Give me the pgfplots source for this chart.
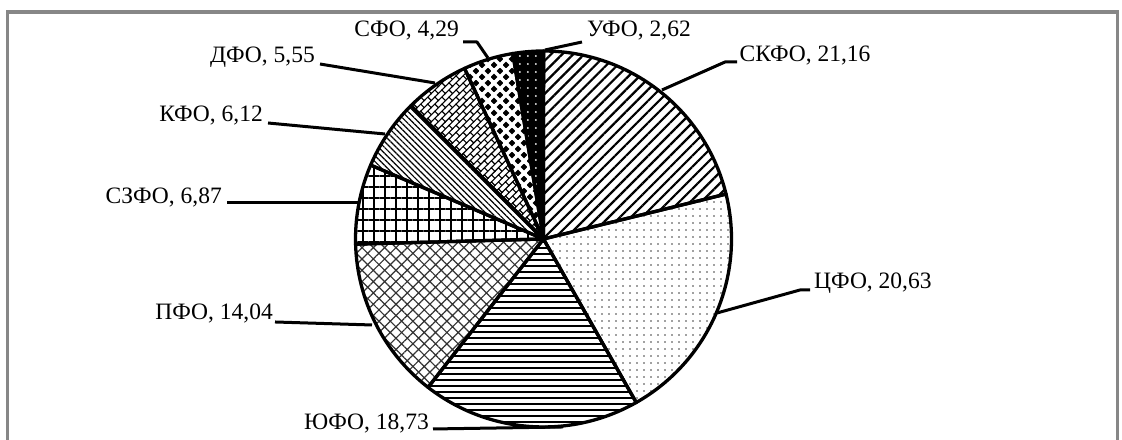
\documentclass[border=0pt]{standalone}
\usepackage{pgfplots}
\pgfplotsset{compat=1.18}
\usepackage{pgfplotstable}
\usepackage{fontspec}
\setmainfont{Liberation Serif}
\usetikzlibrary{patterns.meta}

\pgfdeclarepattern{
  name=DiagBricks, type=uncolored,
  bottom left={\pgfpoint{-1pt}{-1pt}}, top right={\pgfpoint{11pt}{11pt}},
  tile size={\pgfpoint{10pt}{10pt}},
  tile transformation={\pgftransformrotate{45}},
  code={
    \pgfsetlinewidth{1.1pt}
    \pgfpathmoveto{\pgfpoint{-1pt}{0pt}}\pgfpathlineto{\pgfpoint{11pt}{0pt}}
    \pgfpathmoveto{\pgfpoint{-1pt}{5pt}}\pgfpathlineto{\pgfpoint{11pt}{5pt}}
    \pgfpathmoveto{\pgfpoint{0pt}{0pt}}\pgfpathlineto{\pgfpoint{0pt}{5pt}}
    \pgfpathmoveto{\pgfpoint{5pt}{5pt}}\pgfpathlineto{\pgfpoint{5pt}{10pt}}
    \pgfusepath{stroke}
  }
}
\pgfdeclarepattern{
  name=Diamonds, type=uncolored,
  bottom left={\pgfpoint{0pt}{0pt}}, top right={\pgfpoint{12pt}{12pt}},
  tile size={\pgfpoint{12pt}{12pt}},
  code={
    \pgfpathmoveto{\pgfpoint{3pt}{-0.3pt}}\pgfpathlineto{\pgfpoint{6.3pt}{3pt}}
    \pgfpathlineto{\pgfpoint{3pt}{6.3pt}}\pgfpathlineto{\pgfpoint{-0.3pt}{3pt}}\pgfpathclose
    \pgfpathmoveto{\pgfpoint{9pt}{5.7pt}}\pgfpathlineto{\pgfpoint{12.3pt}{9pt}}
    \pgfpathlineto{\pgfpoint{9pt}{12.3pt}}\pgfpathlineto{\pgfpoint{5.7pt}{9pt}}\pgfpathclose
    \pgfusepath{fill}
  }
}

\tikzset{
  pie0/.style={pattern={Lines[angle=45,distance=7.8pt,line width=2.2pt]}},
  pie1/.style={pattern={Dots[distance=7pt,radius=0.9pt]},pattern color=black!75},
  pie2/.style={pattern={Lines[angle=0,distance=6pt,line width=1.3pt]}},
  pie3/.style={pattern={Hatch[angle=45,distance=8pt,line width=1.2pt]},pattern color=black!80},
  pie4/.style={pattern={Hatch[angle=0,distance=11pt,line width=1.5pt]}},
  pie5/.style={pattern={Lines[angle=-45,distance=4.2pt,line width=1.2pt]}},
  pie6/.style={pattern={DiagBricks}},
  pie7/.style={pattern={Diamonds}},
  pie8/.style={preaction={fill=black},pattern={Dots[distance=8pt,radius=1pt]},pattern color=white},
}

\pgfplotstableread{
name value
SKFO 21.16
CFO 20.63
YuFO 18.73
PFO 14.04
SZFO 6.87
KFO 6.12
DFO 5.55
SFO 4.29
UFO 2.62
}\pietable

\newcommand\lab{\fontsize{23.5}{26}\selectfont}

\begin{document}
\begin{tikzpicture}
\begin{axis}[
  width=1122pt, height=440pt, scale only axis,
  xmin=-543.5, xmax=578.5, ymin=-201, ymax=239,
  hide axis, clip=true,
]
% frame
\draw[line width=3.5pt, color=black!47] (axis cs:-536,-260) -- (axis cs:-536,227) -- (axis cs:574,227) -- (axis cs:574,-260);
% slices
\pgfmathsetmacro{\sa}{90}
\pgfplotsforeachungrouped \i in {0,...,8}{%
  \pgfplotstablegetelem{\i}{value}\of\pietable
  \pgfmathsetmacro{\ea}{\sa-3.6*\pgfplotsretval}%
  \edef\tmp{\noexpand\draw[pie\i, line width=3.3pt, line join=round] (axis cs:0,0) -- ++(\sa:188pt) arc[start angle=\sa, end angle=\ea, radius=188pt] -- cycle;}%
  \tmp
  \global\let\sa\ea
}
% leader lines
\begin{scope}[line width=3pt, line join=round]
\draw (axis cs:1.5,189) -- (axis cs:38.5,197);
\draw (axis cs:-80.5,197) -- (axis cs:-66.5,197) -- (axis cs:-55.5,181);
\draw (axis cs:118.5,149) -- (axis cs:181.5,177) -- (axis cs:193.5,177);
\draw (axis cs:-223.5,175) -- (axis cs:-108.5,156);
\draw (axis cs:-275.5,116) -- (axis cs:-158.5,105);
\draw (axis cs:-316.5,36) -- (axis cs:-185.5,36);
\draw (axis cs:-268.5,-83) -- (axis cs:-171.5,-86);
\draw (axis cs:-110.5,-190) -- (axis cs:19.5,-188);
\draw (axis cs:173.5,-74) -- (axis cs:256.5,-51) -- (axis cs:266.5,-51);
\end{scope}
% labels
\begin{scope}[every node/.style={inner sep=0pt, font=\lab}]
\node[anchor=base west] at (axis cs:43.5,202) {УФО, 2,62};
\node[anchor=base east] at (axis cs:-84.5,202) {СФО, 4,29};
\node[anchor=base west] at (axis cs:196,177) {СКФО, 21,16};
\node[anchor=base east] at (axis cs:-228.5,176) {ДФО, 5,55};
\node[anchor=base east] at (axis cs:-280.5,117) {КФО, 6,12};
\node[anchor=base east] at (axis cs:-321.5,35) {СЗФО, 6,87};
\node[anchor=base east] at (axis cs:-270.5,-81) {ПФО, 14,04};
\node[anchor=base east] at (axis cs:-114.5,-191) {ЮФО, 18,73};
\node[anchor=base west] at (axis cs:270.5,-50) {ЦФО, 20,63};
\end{scope}
\end{axis}
\pgfresetboundingbox
\path[use as bounding box] (current axis.south west) rectangle (current axis.north east);
\end{tikzpicture}
\end{document}
